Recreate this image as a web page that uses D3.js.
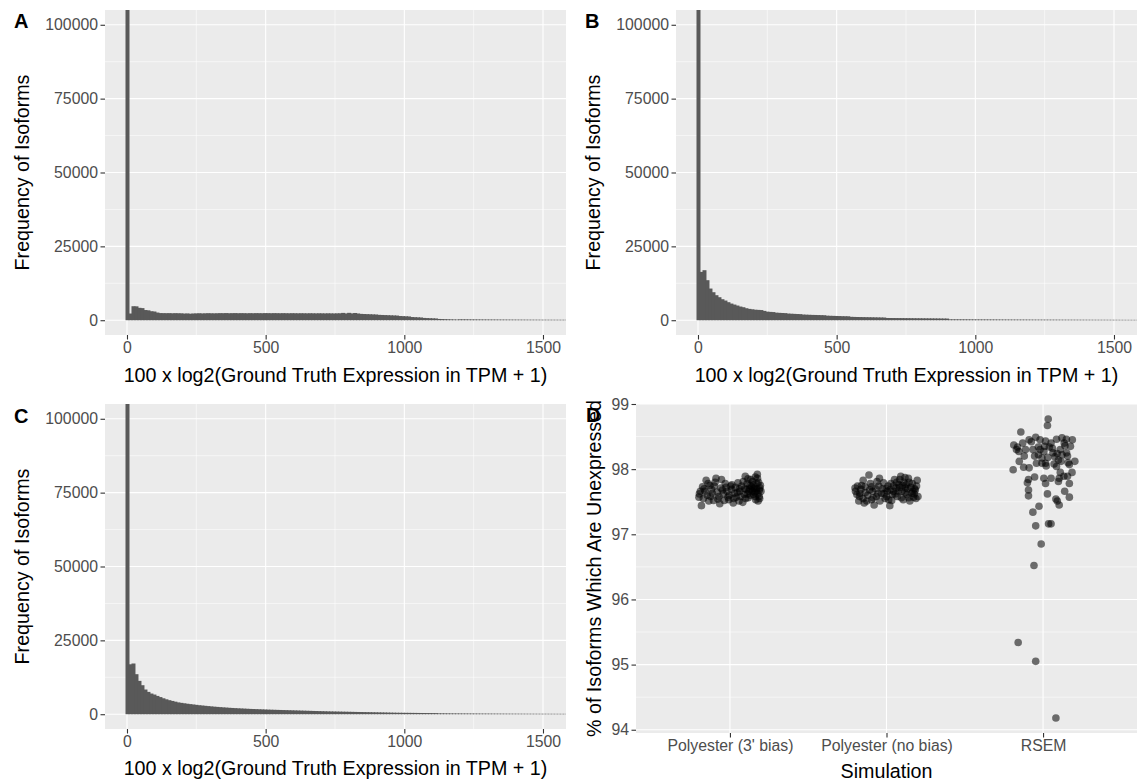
<!DOCTYPE html>
<html><head><meta charset="utf-8">
<script src="https://cdn.jsdelivr.net/npm/d3@7"></script>
<style>
body{margin:0;background:#fff;}
svg{display:block;font-family:"Liberation Sans",Arial,Helvetica,sans-serif;}
</style></head><body>
<svg id="c" width="1141" height="783"></svg>
<script>
// ---------------- DATA ----------------
const binWidth = 10.8; // histogram bin width (x units); bin k centred at k*binWidth
const histA = [190000,2270,4740,4700,4200,4100,3450,3350,3050,2950,2600,
 2420,2400,2380,2400,2350,2390,2360,2340,2250,2300,2200,2280,2320,2360,2300,2340,2380,2350,2330,2360,
 2400,2380,2420,2360,2390,2410,2370,2400,2380,2350,2390,2360,2400,2380,2370,2410,2390,2370,2400,2380,
 2360,2390,2370,2350,2380,2360,2340,2370,2350,2330,2360,2340,2320,2350,2330,2310,2340,2320,2300,2330,
 2350,2480,2300,2500,2320,2450,2280,
 2150,2100,2060,2020,1980,1940,
 1820,1780,1740,1700,1660,1620,1580,
 1420,1380,1330,1280,
 1080,1030,980,930,
 780,730,680,640,600,
 430,390,350,320,290,260,230,
 300,290,280,270,262,255,248,242,236,230,225,220,215,210,205,200,196,192,188,184,
 180,176,172,168,165,162,159,156,153,150,148,146,144,142,140,138,136,134,132];
const histB = [190000,16360,16930,13550,10720,9480,8470,7790,7110,6660,6100,5640,5300,4970,4630,4400,4060,3840,3700,
 3560,3500,3440,3160,2900,2820,2760,2560,2500,2450,2400,2250,2200,2150,2100,2060,
 1920,1880,1840,1800,1780,1750,1720,1690,1540,1500,1470,1440,1410,1370,1350,1330,
 1150,1120,1090,1070,1050,1030,1010,990,970,950,930,910,
 760,750,740,730,720,710,700,690,680,670,660,650,640,630,620,610,600,590,580,570,560,
 300,295,290,285,280,275,270,265,260,255,250,246,242,238,234,230,226,222,218,214,
 210,207,204,201,198,195,192,189,186,183,180,178,176,174,172,170,168,166,164,162,
 160,158,156,154,152,150,148,146,144,142,140,138,136,134,132,130,128,126,124,122,
 120,118,116,114,112,110];
const histC = [190000,16900,17170,13550,11290,9820,8360,7560,7000,6660,6200,5800,5400,5050,4750,4500,4250,4000,3850,3700,
 3550,3420,3300,3180,3050,2950,2850,2750,2650,2560,2480,2400,2320,2250,2180,2120,2060,2000,1950,1900,
 1850,1800,1760,1720,1680,1640,1600,1560,1530,1500,1470,1440,1410,1380,1350,1320,1290,1260,1230,1200,
 1170,1140,1110,1080,1050,1020,990,960,940,920,900,880,860,840,820,800,780,760,740,720,700,680,660,640,
 620,600,580,560,540,520,500,490,480,470,460,450,440,430,420,410,400,390,380,370,
 300,290,280,270,262,255,248,242,236,230,225,220,215,210,205,200,196,192,188,184,
 180,176,172,168,165,162,159,156,153,150,148,146,144,142,140,138,136,134,132,130,128,126,124,122,120,118];
const histXTicks = [0,500,1000,1500];
const histXMinor = [250,750,1250];
const histYTicks = [0,25000,50000,75000,100000];
const histYMinor = [12500,37500,62500,87500];

const categories = ["Polyester (3' bias)","Polyester (no bias)","RSEM"];
// [jitter offset in category units, % unexpressed]
const ptsPoly3 = [[-0.198,97.57],[-0.182,97.44],[-0.175,97.73],[-0.152,97.83],[-0.135,97.51],[-0.128,97.75],[-0.112,97.63],
 [-0.089,97.86],[-0.077,97.54],[-0.058,97.71],[-0.042,97.62],[-0.030,97.78],[-0.012,97.57],[0.005,97.74],[0.012,97.76],
 [0.021,97.48],[0.028,97.63],[0.040,97.57],[0.063,97.66],[0.082,97.49],[0.098,97.89],[0.110,97.78],[0.121,97.66],
 [0.133,97.84],[0.138,97.73],[0.152,97.61],[0.156,97.71],[0.168,97.66],[0.175,97.92],[0.180,97.51],[0.187,97.58],
 [0.191,97.71],[0.198,97.66],[-0.159,97.66],[-0.100,97.74],[-0.054,97.84],[-0.019,97.66],[-0.007,97.53],[0.051,97.79],
 [0.075,97.74],[0.091,97.61],[0.105,97.69],[0.117,97.56],[0.128,97.75],[0.145,97.81],[0.161,97.58],[0.173,97.78],
 [-0.124,97.58],[-0.189,97.66],[-0.065,97.47],[0.058,97.51],
 [-0.195,97.62],[-0.170,97.55],[-0.165,97.70],[-0.145,97.60],[-0.140,97.78],[-0.118,97.69],[-0.105,97.52],[-0.095,97.80],
 [-0.082,97.65],[-0.070,97.58],[-0.048,97.68],[-0.036,97.52],[-0.025,97.72],[-0.004,97.60],[0.010,97.69],[0.025,97.55],
 [0.035,97.72],[0.047,97.64],[0.060,97.70],[0.070,97.58],[0.085,97.81],[0.095,97.70],[0.100,97.55],[0.112,97.62],
 [0.125,97.70],[0.130,97.60],[0.142,97.66],[0.150,97.76],[0.158,97.64],[0.165,97.53],[0.170,97.70],[0.178,97.62],
 [0.183,97.80],[0.190,97.55],[0.195,97.75],[0.188,97.68],[0.176,97.86],[0.162,97.88],[0.147,97.70],[0.115,97.85]];
const ptsPolyNo = [[-0.201,97.71],[-0.189,97.61],[-0.177,97.51],[-0.159,97.75],[-0.149,97.83],[-0.135,97.64],[-0.126,97.51],
 [-0.112,97.91],[-0.103,97.78],[-0.089,97.66],[-0.079,97.45],[-0.065,97.58],[-0.049,97.74],[-0.042,97.51],[-0.033,97.63],
 [-0.019,97.79],[-0.009,97.55],[0.005,97.66],[0.014,97.53],[0.028,97.78],[0.037,97.61],[0.051,97.84],[0.061,97.71],
 [0.068,97.58],[0.079,97.76],[0.091,97.89],[0.098,97.66],[0.107,97.53],[0.121,97.71],[0.131,97.61],[0.145,97.80],
 [0.149,97.51],[0.161,97.63],[0.173,97.57],[0.184,97.68],[0.196,97.83],[0.201,97.58],[0.021,97.44],[-0.096,97.53],
 [-0.142,97.48],[-0.002,97.70],[0.044,97.66],[0.103,97.75],[-0.061,97.81],[-0.170,97.63],
 [-0.198,97.66],[-0.185,97.74],[-0.172,97.58],[-0.163,97.69],[-0.150,97.55],[-0.138,97.73],[-0.120,97.60],[-0.108,97.68],
 [-0.095,97.73],[-0.085,97.56],[-0.070,97.70],[-0.055,97.62],[-0.045,97.86],[-0.025,97.70],[-0.015,97.62],[0.000,97.58],
 [0.010,97.74],[0.022,97.68],[0.033,97.52],[0.045,97.74],[0.055,97.62],[0.065,97.80],[0.075,97.66],[0.085,97.72],
 [0.095,97.56],[0.110,97.80],[0.118,97.64],[0.125,97.76],[0.135,97.70],[0.142,97.56],[0.155,97.72],[0.165,97.78],
 [0.178,97.62],[0.188,97.55],[0.192,97.74],[0.140,97.86],[0.118,97.87],[0.085,97.84],[0.168,97.66],[0.180,97.70]];
const ptsRSEM = [[-0.142,98.57],[0.033,98.77],[0.028,98.67],[-0.187,98.37],[-0.163,98.34],[-0.154,98.27],[-0.191,97.99],
 [-0.152,98.12],[-0.124,98.03],[-0.089,98.45],[-0.047,98.49],[-0.019,98.45],[0.016,98.43],[0.051,98.40],[0.086,98.46],
 [0.121,98.48],[0.149,98.46],[0.187,98.45],[0.140,98.36],[0.203,98.12],[0.168,98.07],[0.121,98.22],[0.063,98.25],
 [0.005,98.27],[-0.007,98.17],[-0.054,98.20],[-0.065,98.30],[-0.030,98.34],[0.040,98.34],[0.098,98.14],[0.086,98.04],
 [0.016,98.09],[-0.042,98.09],[-0.089,98.02],[0.005,97.86],[-0.054,97.88],[0.051,97.86],[0.133,97.89],[0.156,97.89],
 [0.103,97.86],[-0.093,97.84],[-0.100,97.79],[0.016,97.78],[0.168,97.78],[0.098,97.81],[-0.093,97.68],[-0.093,97.59],
 [0.138,97.66],[0.028,97.62],[0.168,97.57],[0.082,97.54],[0.091,97.51],[0.103,97.45],[-0.026,97.43],[-0.065,97.34],
 [-0.047,97.13],[0.035,97.16],[0.051,97.16],[-0.012,96.85],[-0.058,96.52],[-0.159,95.34],[-0.047,95.05],[0.082,94.18],
 [-0.019,98.30],[0.075,98.19],[0.110,98.30],[-0.112,98.30],[0.156,98.20],[-0.007,98.09],
 [-0.170,98.30],[-0.130,98.40],[-0.075,98.42],[-0.030,98.22],[0.010,98.35],[0.030,98.18],[0.060,98.32],[0.090,98.24],
 [0.115,98.12],[0.135,98.40],[0.175,98.35],[0.185,97.95],[-0.120,98.20],[0.020,98.05],[0.070,98.08],[0.110,97.95],
 [0.150,98.25],[0.160,98.10]];
const dYTicks = [94,95,96,97,98,99];
const dYMinor = [94.5,95.5,96.5,97.5,98.5];

// ---------------- STYLE ----------------
const PANEL_BG = "#EBEBEB", TICK_TXT = "#4D4D4D", TICK_LINE = "#333333";
const FS_TICK = 15.8, FS_TITLE = 19.7, FS_LABEL = 20;
const svg = d3.select("#c");
const defs = svg.append("defs");
const fmt = d3.format("d");

function styleAxis(a) {
  a.select(".domain").remove();
  a.selectAll(".tick line").attr("stroke", TICK_LINE).attr("stroke-width", 1.1);
  a.selectAll(".tick text").attr("fill", TICK_TXT).attr("font-size", FS_TICK).attr("font-family", null);
}

function histPanel(id, data, box, xTitle, yTitle) {
  const {L, R, T, B} = box;
  const x = d3.scaleLinear().domain([-79.3, 1583]).range([L, R]);
  const y = d3.scaleLinear().domain([-5000, 105000]).range([B, T]);
  const g = svg.append("g");
  g.append("rect").attr("x", L).attr("y", T).attr("width", R - L).attr("height", B - T).attr("fill", PANEL_BG);
  g.selectAll(null).data(histYMinor).join("line").attr("x1", L).attr("x2", R)
    .attr("y1", d => y(d)).attr("y2", d => y(d)).attr("stroke", "#fff").attr("stroke-width", 0.55);
  g.selectAll(null).data(histXMinor).join("line").attr("y1", T).attr("y2", B)
    .attr("x1", d => x(d)).attr("x2", d => x(d)).attr("stroke", "#fff").attr("stroke-width", 0.55);
  g.selectAll(null).data(histYTicks).join("line").attr("x1", L).attr("x2", R)
    .attr("y1", d => y(d)).attr("y2", d => y(d)).attr("stroke", "#fff").attr("stroke-width", 1.1);
  g.selectAll(null).data(histXTicks).join("line").attr("y1", T).attr("y2", B)
    .attr("x1", d => x(d)).attr("x2", d => x(d)).attr("stroke", "#fff").attr("stroke-width", 1.1);
  defs.append("clipPath").attr("id", "clip" + id).append("rect")
    .attr("x", L).attr("y", T).attr("width", R - L).attr("height", B - T);
  const bins = data.map((v, k) => ({x0: k * binWidth - binWidth / 2, x1: k * binWidth + binWidth / 2, v}));
  // each bar overlaps its right neighbour by 1px so no antialiasing seams appear
  g.append("g").attr("clip-path", `url(#clip${id})`).selectAll("rect").data(bins).join("rect")
    .attr("x", d => x(d.x0)).attr("width", (d, i) => x(d.x1) - x(d.x0) + (i < bins.length - 1 ? 1 : 0))
    .attr("y", d => y(d.v)).attr("height", d => y(0) - y(d.v))
    .attr("fill", "#595959");
  styleAxis(g.append("g").attr("transform", `translate(0,${B})`)
    .call(d3.axisBottom(x).tickValues(histXTicks).tickFormat(fmt).tickSize(4.5).tickPadding(2.5)));
  styleAxis(g.append("g").attr("transform", `translate(${L},0)`)
    .call(d3.axisLeft(y).tickValues(histYTicks).tickFormat(fmt).tickSize(4.5).tickPadding(2.5)));
  g.append("text").attr("x", (L + R) / 2).attr("y", xTitle).attr("text-anchor", "middle")
    .attr("font-size", FS_TITLE).attr("fill", "#000").text("100 x log2(Ground Truth Expression in TPM + 1)");
  g.append("text").attr("transform", `translate(${yTitle},${(T + B) / 2}) rotate(-90)`).attr("text-anchor", "middle")
    .attr("dy", "0.35em").attr("font-size", FS_TITLE).attr("fill", "#000").text("Frequency of Isoforms");
}

histPanel("A", histA, {L: 105, R: 566, T: 10, B: 335}, 382, 22);
histPanel("B", histB, {L: 676, R: 1137, T: 10, B: 335}, 382, 593);
histPanel("C", histC, {L: 105, R: 566, T: 404, B: 729}, 775, 22);

// ---- Panel D ----
(function () {
  const L = 636, R = 1137, T = 404, B = 733;
  const x = d3.scalePoint().domain(categories).range([L, R]).padding(0.6);
  const step = x.step();
  const y = d3.scaleLinear().domain([93.95, 99.0]).range([B, T]);
  const g = svg.append("g");
  g.append("rect").attr("x", L).attr("y", T).attr("width", R - L).attr("height", B - T).attr("fill", PANEL_BG);
  g.selectAll(null).data(dYMinor).join("line").attr("x1", L).attr("x2", R)
    .attr("y1", d => y(d)).attr("y2", d => y(d)).attr("stroke", "#fff").attr("stroke-width", 0.55);
  g.selectAll(null).data(dYTicks).join("line").attr("x1", L).attr("x2", R)
    .attr("y1", d => y(d)).attr("y2", d => y(d)).attr("stroke", "#fff").attr("stroke-width", 1.1);
  g.selectAll(null).data(categories).join("line").attr("y1", T).attr("y2", B)
    .attr("x1", d => x(d)).attr("x2", d => x(d)).attr("stroke", "#fff").attr("stroke-width", 1.1);
  const groups = [ptsPoly3, ptsPolyNo, ptsRSEM];
  groups.forEach((pts, i) => {
    g.append("g").selectAll("circle").data(pts).join("circle")
      .attr("cx", d => x(categories[i]) + d[0] * step).attr("cy", d => y(d[1]))
      .attr("r", 3.8).attr("fill", "#000").attr("fill-opacity", 0.55);
  });
  styleAxis(g.append("g").attr("transform", `translate(0,${B})`)
    .call(d3.axisBottom(x).tickSize(4.5).tickPadding(2.5)));
  styleAxis(g.append("g").attr("transform", `translate(${L},0)`)
    .call(d3.axisLeft(y).tickValues(dYTicks).tickFormat(fmt).tickSize(4.5).tickPadding(2.5)));
  g.append("text").attr("x", (L + R) / 2).attr("y", 778).attr("text-anchor", "middle")
    .attr("font-size", FS_TITLE).attr("fill", "#000").text("Simulation");
  g.append("text").attr("transform", `translate(594,${(T + B) / 2}) rotate(-90)`).attr("text-anchor", "middle")
    .attr("dy", "0.35em").attr("font-size", FS_TITLE).attr("fill", "#000").text("% of Isoforms Which Are Unexpressed");
})();

// panel tags
const tags = [["A", 14, 28], ["B", 585, 28], ["C", 14, 423], ["D", 586, 422]];
svg.selectAll(null).data(tags).join("text").attr("x", d => d[1]).attr("y", d => d[2])
  .attr("font-size", FS_LABEL).attr("font-weight", "bold").attr("fill", "#000").text(d => d[0]);
</script>
</body></html>
